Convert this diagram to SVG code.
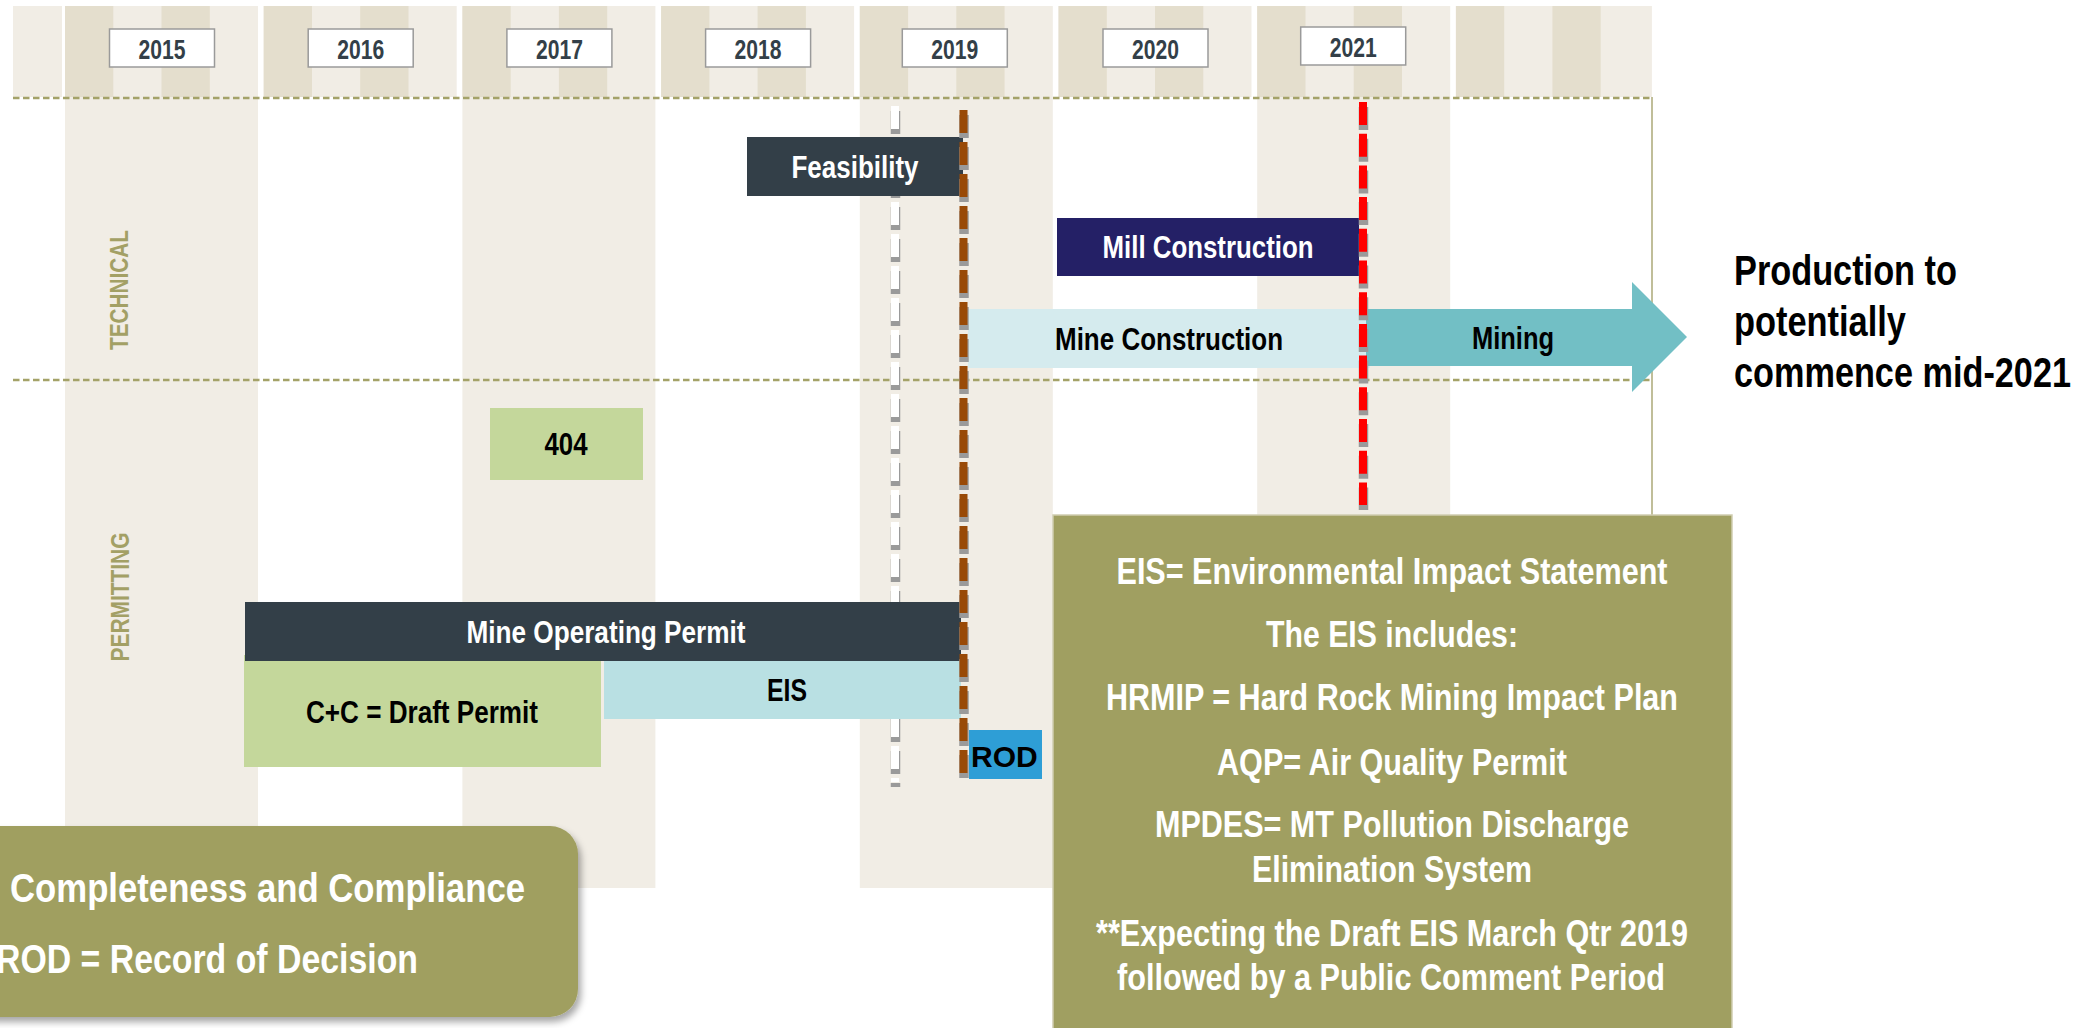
<svg xmlns="http://www.w3.org/2000/svg" width="2093" height="1028" viewBox="0 0 2093 1028">
  <defs>
    <style>
      .n { font-family: "Liberation Sans Narrow", "Arial Narrow", "Liberation Sans", Arial, sans-serif; font-weight: 700; }
      .yr { font-size: 27px; fill: #333F48; text-anchor: middle; }
      .ybox { fill: #FFFFFF; stroke: #9A9A9A; stroke-width: 1.5; }
      .hl { fill: #F1EDE5; }
      .hd { fill: #E4DECD; }
      .body { fill: #F1EDE5; }
      .lane { stroke: #A4A268; stroke-width: 2.7; stroke-dasharray: 6.5 3.5; fill: none; }
      .lbl { font-size: 26px; fill: #A3A065; text-anchor: middle; }
      .bar { font-size: 32px; text-anchor: middle; }
      .info { font-size: 37px; fill: #FFFFFF; text-anchor: middle; }
      .prod { font-size: 42px; fill: #000000; }
      .legend { font-size: 41px; fill: #FFFFFF; }
      .shade { stroke: #9A9A9A; stroke-width: 9.5; stroke-dasharray: 23 9; fill: none; }
      .mark { stroke-width: 8; stroke-dasharray: 23 9; fill: none; }
    </style>
    <filter id="dropShadow" x="-10%" y="-10%" width="130%" height="140%">
      <feDropShadow dx="3" dy="5" stdDeviation="3.5" flood-color="#000000" flood-opacity="0.35"/>
    </filter>
  </defs>

  <rect width="2093" height="1028" fill="#FFFFFF"/>

  <!-- year columns: quarter-striped header band and shaded body -->
  <g id="calendar">
    <rect class="hl" x="13" y="6" width="49" height="91"/>
    <g id="col-2015">
      <rect class="body" x="65" y="97" width="193" height="791"/>
      <rect class="hl" x="65" y="6" width="193" height="91"/>
      <rect class="hd" x="65" y="6" width="48.3" height="91"/>
      <rect class="hd" x="161.5" y="6" width="48.3" height="91"/>
    </g>
    <g id="col-2016">
      <rect class="hl" x="263.7" y="6" width="193" height="91"/>
      <rect class="hd" x="263.7" y="6" width="48.3" height="91"/>
      <rect class="hd" x="360.2" y="6" width="48.3" height="91"/>
    </g>
    <g id="col-2017">
      <rect class="body" x="462.4" y="97" width="193" height="791"/>
      <rect class="hl" x="462.4" y="6" width="193" height="91"/>
      <rect class="hd" x="462.4" y="6" width="48.3" height="91"/>
      <rect class="hd" x="558.9" y="6" width="48.3" height="91"/>
    </g>
    <g id="col-2018">
      <rect class="hl" x="661.1" y="6" width="193" height="91"/>
      <rect class="hd" x="661.1" y="6" width="48.3" height="91"/>
      <rect class="hd" x="757.6" y="6" width="48.3" height="91"/>
    </g>
    <g id="col-2019">
      <rect class="body" x="859.8" y="97" width="193" height="791"/>
      <rect class="hl" x="859.8" y="6" width="193" height="91"/>
      <rect class="hd" x="859.8" y="6" width="48.3" height="91"/>
      <rect class="hd" x="956.3" y="6" width="48.3" height="91"/>
    </g>
    <g id="col-2020">
      <rect class="hl" x="1058.5" y="6" width="193" height="91"/>
      <rect class="hd" x="1058.5" y="6" width="48.3" height="91"/>
      <rect class="hd" x="1155" y="6" width="48.3" height="91"/>
    </g>
    <g id="col-2021">
      <rect class="body" x="1257.2" y="97" width="193" height="791"/>
      <rect class="hl" x="1257.2" y="6" width="193" height="91"/>
      <rect class="hd" x="1257.2" y="6" width="48.3" height="91"/>
      <rect class="hd" x="1353.7" y="6" width="48.3" height="91"/>
    </g>
    <g id="col-2022">
      <rect class="hl" x="1455.9" y="6" width="196" height="91"/>
      <rect class="hd" x="1455.9" y="6" width="48.3" height="91"/>
      <rect class="hd" x="1552.4" y="6" width="48.3" height="91"/>
    </g>

    <!-- year labels -->
    <g id="year-2015"><rect class="ybox" x="109.5" y="29" width="105" height="38"/><text class="n yr" x="162" y="59" textLength="47" lengthAdjust="spacingAndGlyphs">2015</text></g>
    <g id="year-2016"><rect class="ybox" x="308.2" y="29" width="105" height="38"/><text class="n yr" x="360.7" y="59" textLength="47" lengthAdjust="spacingAndGlyphs">2016</text></g>
    <g id="year-2017"><rect class="ybox" x="506.9" y="29" width="105" height="38"/><text class="n yr" x="559.4" y="59" textLength="47" lengthAdjust="spacingAndGlyphs">2017</text></g>
    <g id="year-2018"><rect class="ybox" x="705.6" y="29" width="105" height="38"/><text class="n yr" x="758.1" y="59" textLength="47" lengthAdjust="spacingAndGlyphs">2018</text></g>
    <g id="year-2019"><rect class="ybox" x="902.3" y="29" width="105" height="38"/><text class="n yr" x="954.8" y="59" textLength="47" lengthAdjust="spacingAndGlyphs">2019</text></g>
    <g id="year-2020"><rect class="ybox" x="1103" y="29" width="105" height="38"/><text class="n yr" x="1155.5" y="59" textLength="47" lengthAdjust="spacingAndGlyphs">2020</text></g>
    <g id="year-2021"><rect class="ybox" x="1300.7" y="27" width="105" height="38"/><text class="n yr" x="1353.2" y="57" textLength="47" lengthAdjust="spacingAndGlyphs">2021</text></g>
  </g>

  <!-- swim-lane separators and labels -->
  <g id="lanes">
    <line class="lane" x1="13" y1="98" x2="1652" y2="98"/>
    <line class="lane" x1="13" y1="380" x2="1652" y2="380"/>
    <line x1="1652" y1="97" x2="1652" y2="516" stroke="#ABA977" stroke-width="1.5"/>
    <text class="n lbl" transform="translate(128,290) rotate(-90)" textLength="120" lengthAdjust="spacingAndGlyphs">TECHNICAL</text>
    <text class="n lbl" transform="translate(129,597) rotate(-90)" textLength="129" lengthAdjust="spacingAndGlyphs">PERMITTING</text>
  </g>

  <!-- current-date marker sits behind the activity bars -->
  <g id="today-marker">
    <line class="shade" x1="895.5" y1="111" x2="895.5" y2="787"/>
    <line class="mark" x1="895" y1="106" x2="895" y2="782" stroke="#FFFFFF"/>
  </g>

  <!-- technical activities -->
  <g id="feasibility">
    <rect x="747" y="137" width="216" height="59" fill="#333F48"/>
    <text class="n bar" x="855" y="178" fill="#FFFFFF" textLength="127" lengthAdjust="spacingAndGlyphs">Feasibility</text>
  </g>
  <g id="mill-construction">
    <rect x="1057" y="218" width="302" height="58" fill="#242066"/>
    <text class="n bar" x="1208" y="258" fill="#FFFFFF" textLength="211" lengthAdjust="spacingAndGlyphs">Mill Construction</text>
  </g>
  <g id="mine-construction">
    <rect x="968" y="309" width="402" height="59" fill="#D5EBEE"/>
    <text class="n bar" x="1169" y="350" fill="#000000" textLength="228" lengthAdjust="spacingAndGlyphs">Mine Construction</text>
  </g>
  <g id="mining">
    <polygon points="1366,309 1632,309 1632,282 1687,337 1632,392 1632,366 1366,366" fill="#72BFC5"/>
    <text class="n bar" x="1513" y="349" fill="#000000" textLength="82" lengthAdjust="spacingAndGlyphs">Mining</text>
  </g>

  <!-- permitting activities -->
  <g id="permit-404">
    <rect x="490" y="408" width="153" height="72" fill="#C4D79B"/>
    <text class="n bar" x="566" y="455" fill="#000000" textLength="43" lengthAdjust="spacingAndGlyphs">404</text>
  </g>
  <g id="draft-permit">
    <rect x="244" y="655" width="357" height="112" fill="#C4D79B"/>
    <text class="n bar" x="422" y="723" fill="#000000" textLength="232" lengthAdjust="spacingAndGlyphs">C+C = Draft Permit</text>
  </g>
  <g id="mine-operating-permit">
    <rect x="245" y="602" width="716" height="59" fill="#333F48"/>
    <text class="n bar" x="606" y="643" fill="#FFFFFF" textLength="279" lengthAdjust="spacingAndGlyphs">Mine Operating Permit</text>
  </g>
  <g id="eis">
    <rect x="604" y="661" width="357" height="58" fill="#B9E0E3"/>
    <text class="n bar" x="787" y="701" fill="#000000" textLength="40" lengthAdjust="spacingAndGlyphs">EIS</text>
  </g>

  <!-- milestone markers drawn over the bars: dashed verticals with a soft grey drop -->
  <g id="milestones">
    <line class="shade" x1="964" y1="115" x2="964" y2="778"/>
    <line class="mark" x1="963.5" y1="110" x2="963.5" y2="773" stroke="#994A07"/>
    <line class="shade" x1="1363.5" y1="107" x2="1363.5" y2="510" style="stroke-dasharray:23 8.7"/>
    <line class="mark" x1="1363" y1="102" x2="1363" y2="505" stroke="#FF0000" style="stroke-dasharray:23 8.7"/>
  </g>

  <g id="rod">
    <rect x="969" y="730" width="73" height="49" fill="#2E9ED6"/>
    <text x="971" y="767" font-family="'Liberation Sans', Arial, sans-serif" font-weight="700" font-size="30" fill="#000000">ROD</text>
  </g>

  <g id="production-note">
    <text class="n prod" x="1734" y="285" textLength="223" lengthAdjust="spacingAndGlyphs">Production to</text>
    <text class="n prod" x="1734" y="336" textLength="172" lengthAdjust="spacingAndGlyphs">potentially</text>
    <text class="n prod" x="1734" y="387" textLength="337" lengthAdjust="spacingAndGlyphs">commence mid-2021</text>
  </g>

  <g id="eis-legend">
    <rect x="1053" y="515" width="679" height="520" fill="#A09F61" stroke="#CFCDB0" stroke-width="1.5"/>
    <text class="n info" x="1392" y="584" textLength="551" lengthAdjust="spacingAndGlyphs">EIS= Environmental Impact Statement</text>
    <text class="n info" x="1392" y="647" textLength="252" lengthAdjust="spacingAndGlyphs">The EIS includes:</text>
    <text class="n info" x="1392" y="710" textLength="572" lengthAdjust="spacingAndGlyphs">HRMIP = Hard Rock Mining Impact Plan</text>
    <text class="n info" x="1392" y="775" textLength="350" lengthAdjust="spacingAndGlyphs">AQP= Air Quality Permit</text>
    <text class="n info" x="1392" y="837" textLength="474" lengthAdjust="spacingAndGlyphs">MPDES= MT Pollution Discharge</text>
    <text class="n info" x="1392" y="882" textLength="280" lengthAdjust="spacingAndGlyphs">Elimination System</text>
    <text class="n info" x="1392" y="946" textLength="592" lengthAdjust="spacingAndGlyphs">**Expecting the Draft EIS March Qtr 2019</text>
    <text class="n info" x="1391" y="990" textLength="548" lengthAdjust="spacingAndGlyphs">followed by a Public Comment Period</text>
  </g>

  <g id="abbrev-legend">
    <rect x="-40" y="826" width="618" height="191" rx="28" ry="28" fill="#A09F61" filter="url(#dropShadow)"/>
    <text class="n legend" x="10" y="902" textLength="515" lengthAdjust="spacingAndGlyphs">Completeness and Compliance</text>
    <text class="n legend" x="-4" y="973" textLength="422" lengthAdjust="spacingAndGlyphs">ROD = Record of Decision</text>
  </g>
</svg>
